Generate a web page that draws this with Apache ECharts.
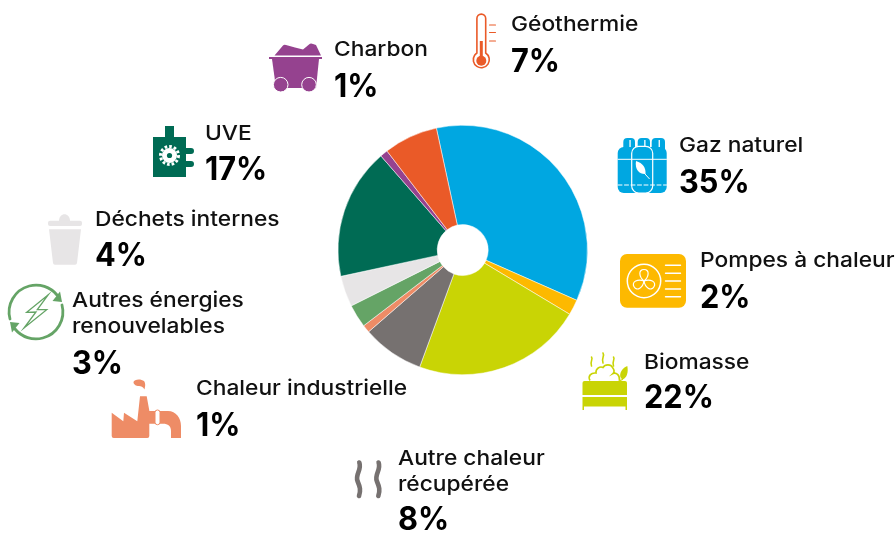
<!DOCTYPE html>
<html>
<head>
<meta charset="utf-8">
<style>html,body{margin:0;padding:0;background:#fff}#chart{width:896px;height:533px}</style>
<script src="https://cdn.jsdelivr.net/npm/echarts@6/dist/echarts.min.js"></script>
</head>
<body>
<div id="chart"></div>
<script>
var categories = ['Gaz naturel', 'Pompes à chaleur', 'Biomasse', 'Autre chaleur\nrécupérée', 'Chaleur industrielle',
  'Autres énergies\nrenouvelables', 'Déchets internes', 'UVE', 'Charbon', 'Géothermie'];
var values = [35, 2, 22, 8, 1, 3, 4, 17, 1, 7];
var colors = ['#00a7e1', '#fdb900', '#c9d405', '#767170', '#ee8c66', '#65a466', '#e7e5e6', '#006b54', '#95428f', '#ea5a28'];

// x, first name baseline, value baseline
var labelPos = [
  [679, 152, 193], [700, 267, 308], [644, 369, 408], [398, 465, 530], [196, 395, 436],
  [72, 307, 374], [95, 226, 266], [205, 140, 180], [334, 56, 97], [511, 31, 72]
];

var FONT = 'Inter, "Noto Sans", sans-serif';
var nameSize = 20.5;
var valueSize = 32;
var nameLineGap = 26;

function p(d, fill, extra) {
  var el = { type: 'path', silent: true, shape: { pathData: d }, style: { fill: fill } };
  if (extra) {
    for (var k in extra) {
      if (k === 'style') {
        for (var s in extra.style) el.style[s] = extra.style[s];
      } else {
        el[k] = extra[k];
      }
    }
  }
  return el;
}

function line(d, stroke, w, dash) {
  return p(d, 'none', { style: { stroke: stroke, lineWidth: w, lineDash: dash || null, lineCap: 'round' } });
}

function circle(cx, cy, r, fill, stroke, w, dash) {
  return {
    type: 'circle', silent: true, shape: { cx: cx, cy: cy, r: r },
    style: { fill: fill, stroke: stroke || null, lineWidth: w || 0, lineDash: dash || null }
  };
}

function rect(x, y, w, h, r, fill, stroke, lw) {
  return {
    type: 'rect', silent: true, shape: { x: x, y: y, width: w, height: h, r: r },
    style: { fill: fill, stroke: stroke || null, lineWidth: lw || 0 }
  };
}

var iconEls = [];

// charbon
var cPurple = colors[8];
iconEls.push(
  p('M274.5 55.5L283 45.5Q284 44.5 286 45L295 47.5L303 49.5L309 44.5Q310.5 43 313 44L316 45L321 55.5Z', cPurple),
  rect(269, 57, 53, 2, 0, cPurple),
  p('M272 59H319L316 88H276Z', cPurple),
  circle(280.7, 84.7, 7.3, cPurple, '#fff', 1),
  circle(309, 84.7, 7.3, cPurple, '#fff', 1)
);

// uve
var cDark = colors[7];
iconEls.push(
  p('M153 137H165V126H174V137H186V148H191A3 3 0 0 1 191 154H186V161H191A3 3 0 0 1 191 167H186V177H153Z', cDark),
  circle(169.5, 155.5, 7.5, '#fff'),
  circle(169.5, 155.5, 9, 'none', '#fff', 3, [2.6, 2.05]),
  circle(169.5, 155.5, 2.6, cDark)
);

// dechets
var cBin = colors[6];
iconEls.push(
  p('M59 221C59 212 70 212 70 221Z', cBin),
  rect(48, 220.7, 34, 5.3, 2, cBin),
  p('M49 229.3H81L77 263A2 2 0 0 1 75 264.7H55A2 2 0 0 1 53 263Z', cBin)
);

// autres energies
var cGreen = colors[5];
iconEls.push(
  line('M10 319A27 27 0 0 1 57 295', cGreen, 2.8),
  line('M62 305A27 27 0 0 1 15 329', cGreen, 2.8),
  p('M52.5 301L62 302L60 291.5Z', cGreen),
  p('M19.5 323L10 322L12 332.5Z', cGreen),
  p('M48.3 294.7L26.7 312.3L36 312L24 328L46.7 309.7L37.3 309.7Z', 'none', { style: { stroke: cGreen, lineWidth: 1.3 } })
);

// chaleur industrielle
var cSalmon = colors[4];
iconEls.push(
  p('M111.7 412.7L123.3 421.3L124 412.7L137.3 421.3L140 396.3H146.7L149.3 410.5V436A2 2 0 0 1 147.3 438H113.7A2 2 0 0 1 111.7 436Z', cSalmon),
  p('M149 411H168C176 411 181 418 181 426V438H171V431C171 426 168 423.7 163 423.7H149Z', cSalmon),
  rect(155, 410, 5, 14.7, 2.4, '#fff', cSalmon, 1),
  p('M133.5 382C134 379 141 378.5 144 381C146 384 145 387 144.5 389.5C143 386.5 141 386 139 386C136 386 133.5 384.5 133.5 382Z', cSalmon)
);

// autre chaleur recuperee
var cGray = colors[3];
iconEls.push(
  line('M359.3 462.5C362 470 355 474 357.5 481C360 487 361 490 359 496', cGray, 4.6),
  line('M378.6 462.5C381.3 470 374.3 474 376.8 481C379.3 487 380.3 490 378.3 496', cGray, 4.6)
);

// geothermie
var cOrange = colors[9];
iconEls.push(
  p('M476.9 53V18.5A4.4 4.4 0 0 1 485.7 18.5V53A8 8 0 1 1 476.9 53Z', '#fff', { style: { stroke: cOrange, lineWidth: 1.6 } }),
  rect(479.8, 41, 3, 18, 0, cOrange),
  circle(481.3, 60.7, 5, cOrange),
  line('M489.5 25H495.5M489.5 32.5H495.5M489.5 41H495.5', cOrange, 1.1)
);

// gaz naturel
var cBlue = colors[0];
iconEls.push(
  p('M623.3 149V142Q623.3 138 627.3 138H631Q635 138 635 142V149Z', cBlue),
  p('M637.7 149V142Q637.7 138 641.7 138H646Q650 138 650 142V149Z', cBlue),
  p('M651.7 149V142Q651.7 138 655.7 138H661Q665 138 665 142V149Z', cBlue),
  rect(629.4, 140, 1.3, 9, 0, '#fff'),
  rect(644.2, 140, 1.3, 9, 0, '#fff'),
  rect(658.6, 140, 1.3, 9, 0, '#fff'),
  rect(617.7, 147, 22, 46, 6, cBlue),
  rect(644.7, 147, 22, 46, 6, cBlue),
  rect(631.7, 146.3, 21, 46.7, 7, cBlue, '#fff', 1.2),
  line('M618 159.3H666.5', '#fff', 1),
  line('M618 185H666.5', '#fff', 1, [4, 2.5]),
  p('M636 161C643 163 646 168 645.5 174C640 174.5 634.5 170 636 161Z', '#fff'),
  line('M645 174L649.3 178.7', '#fff', 1)
);

// pompes a chaleur
var cYellow = colors[1];
var fanX = 644;
var fanY = 281;
var blade = 'M0 0C-5 -4 -6 -11.5 0 -11.5C6 -11.5 5 -4 0 0Z';
iconEls.push(
  rect(620, 254, 66, 53.7, 7, cYellow),
  circle(fanX, fanY, 16.7, 'none', '#fff', 1.5),
  line('M665.5 265.3H680.5M665.5 273.3H680.5M665.5 281H680.5M665.5 289H680.5M665.5 296.7H680.5', '#fff', 1.4)
);
[0, 120, 240].forEach(function(a) {
  iconEls.push(p(blade, 'none', {
    x: fanX, y: fanY, rotation: a * Math.PI / 180,
    style: { stroke: '#fff', lineWidth: 1.2 }
  }));
});

// biomasse
var cLime = colors[2];
iconEls.push(
  p('M582.5 383A2 2 0 0 1 584.5 381H625A2 2 0 0 1 627 383V395H582.5Z', cLime),
  p('M582.5 397H627V410H625.5V406.5H584V410H582.5Z', cLime),
  p('M590 380.5C587.5 376 591 372.5 596 373C595.5 368.5 600 366 603 367.5C605 364 611 364 612.5 367.5C614.5 370 614.5 372 613 373.5C616 372 620 375 619.5 380.5', 'none', { style: { stroke: cLime, lineWidth: 1.6 } }),
  p('M627.3 366C628.5 372 627 378 622.5 379.5C618 377 620 369 627.3 366Z', cLime),
  line('M622.5 379.5L619 381', cLime, 1.2),
  line('M591.5 357C593.5 359.5 589.5 361.5 591.5 366', cLime, 1.6),
  line('M603 353C605 356 601 358.5 603 363', cLime, 1.6),
  line('M613.5 357C615.5 359.5 611.5 361.5 613.5 366', cLime, 1.6)
);

function textEl(str, x, baseline, size, weight, fill, sx) {
  return {
    type: 'text', silent: true, x: x, y: baseline - size * 0.3, scaleX: sx,
    style: { text: str, fill: fill, font: weight + ' ' + size + 'px ' + FONT, verticalAlign: 'middle', align: 'left' }
  };
}

// text from the data arrays, stretched a bit since the original face is wider than Inter
var textEls = [];
categories.forEach(function(name, i) {
  var pos = labelPos[i];
  name.split('\n').forEach(function(part, j) {
    textEls.push(textEl(part, pos[0], pos[1] + j * nameLineGap, nameSize, 500, '#111', 1.11));
  });
  textEls.push(textEl(values[i] + '%', pos[0], pos[2], valueSize, 700, '#000', 0.96));
});

var chart = echarts.init(document.getElementById('chart'));
chart.setOption({
  animation: false,
  backgroundColor: '#fff',
  series: [{
    type: 'pie',
    center: [462.7, 250],
    radius: [25.5, 124.7],
    startAngle: 102.2,
    clockwise: true,
    label: { show: false },
    labelLine: { show: false },
    silent: true,
    itemStyle: { borderColor: '#fff', borderWidth: 0.5 },
    data: categories.map(function(name, i) {
      return { name: name, value: values[i], itemStyle: { color: colors[i] } };
    })
  }, {
    // icons and labels, custom series because graphic has no path type
    type: 'custom',
    coordinateSystem: 'none',
    silent: true,
    data: [0],
    renderItem: function() {
      return { type: 'group', children: iconEls.concat(textEls) };
    }
  }]
});
</script>
</body>
</html>
